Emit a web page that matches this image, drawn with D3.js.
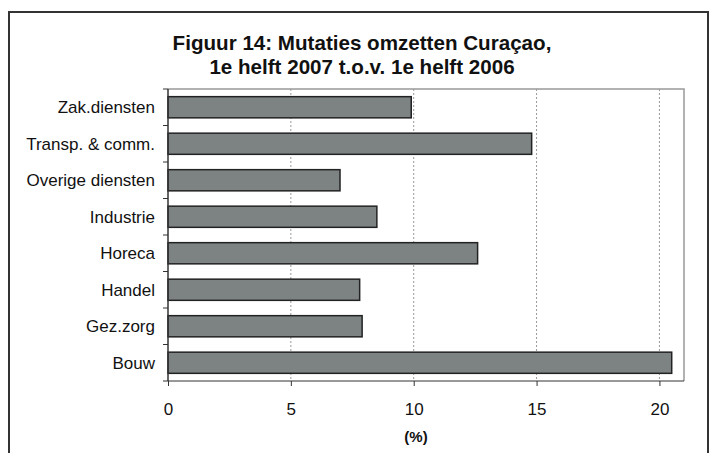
<html>
<head>
<script src="https://d3js.org/d3.v7.min.js"></script>
<style>
  body { margin: 0; background: #fff; }
  text { font-family: "Liberation Sans", Arial, sans-serif; fill: #111; }
</style>
</head>
<body>
<script>
  // data
  const categories = ["Zak.diensten", "Transp. & comm.", "Overige diensten", "Industrie",
                      "Horeca", "Handel", "Gez.zorg", "Bouw"];
  const values = [9.9, 14.8, 7.0, 8.5, 12.6, 7.8, 7.9, 20.5];
  const xTicks = [0, 5, 10, 15, 20];
  const titleLines = ["Figuur 14: Mutaties omzetten Curaçao,", "1e helft 2007 t.o.v. 1e helft 2006"];

  const width = 714, height = 453;
  const plotLeft = 168, plotRight = 684, plotTop = 89, plotBottom = 381;

  const svg = d3.select("body").append("svg")
    .attr("width", width).attr("height", height);

  // outer frame
  svg.append("rect")
    .attr("x", 9).attr("y", 12).attr("width", 699).attr("height", 460)
    .attr("fill", "none").attr("stroke", "#333").attr("stroke-width", 2);

  // title
  svg.selectAll(".title").data(titleLines).join("text")
    .attr("x", 362).attr("y", (d, i) => 50 + i * 24).attr("text-anchor", "middle")
    .attr("font-size", 20.6).attr("font-weight", "bold").text(d => d);

  const x = d3.scaleLinear().domain([0, 21]).range([plotLeft, plotRight]);
  const y = d3.scaleBand().domain(categories).range([plotTop, plotBottom])
    .paddingInner(0.42).paddingOuter(0.21);

  // plot area border (top/right)
  svg.append("path")
    .attr("d", `M${plotLeft},${plotTop}H${plotRight}V${plotBottom}`)
    .attr("fill", "none").attr("stroke", "#999").attr("stroke-width", 1.5);

  // dotted gridlines
  svg.selectAll(".grid").data(xTicks.slice(1)).join("line")
    .attr("x1", d => x(d)).attr("x2", d => x(d))
    .attr("y1", plotTop).attr("y2", plotBottom)
    .attr("stroke", "#999").attr("stroke-width", 1).attr("stroke-dasharray", "2,2");

  // bars
  svg.selectAll(".bar").data(values).join("rect")
    .attr("x", x(0))
    .attr("y", (d, i) => y(categories[i]))
    .attr("width", d => x(d) - x(0))
    .attr("height", y.bandwidth())
    .attr("fill", "#7d8383").attr("stroke", "#222").attr("stroke-width", 1.5);

  // x axis
  const xAxis = svg.append("g").attr("transform", `translate(0,${plotBottom})`)
    .call(d3.axisBottom(x).tickValues(xTicks).tickSize(5).tickPadding(17));
  xAxis.select(".domain").attr("stroke", "#333").attr("d", `M${plotLeft},0H${plotRight}`);
  xAxis.selectAll(".tick line").attr("stroke", "#333");
  xAxis.selectAll("text").attr("font-size", 17).attr("font-family", "Liberation Sans, Arial, sans-serif").attr("fill", "#111");

  // y axis: ticks on category boundaries, labels centered on bands
  const step = y.step();
  const bounds = d3.range(categories.length + 1).map(i => plotTop + i * step);
  svg.append("line").attr("x1", plotLeft).attr("x2", plotLeft).attr("y1", plotTop).attr("y2", plotBottom)
    .attr("stroke", "#333").attr("stroke-width", 1.5);
  svg.selectAll(".ytick").data(bounds).join("line")
    .attr("x1", plotLeft - 5).attr("x2", plotLeft).attr("y1", d => d).attr("y2", d => d)
    .attr("stroke", "#333");
  svg.selectAll(".ylab").data(categories).join("text")
    .attr("x", 155).attr("y", d => y(d) + y.bandwidth() / 2)
    .attr("dy", "0.35em").attr("text-anchor", "end").attr("font-size", 17)
    .text(d => d);

  // axis title
  svg.append("text").attr("x", 416).attr("y", 442).attr("text-anchor", "middle")
    .attr("font-size", 15).attr("font-weight", "bold").text("(%)");
</script>
</body>
</html>
